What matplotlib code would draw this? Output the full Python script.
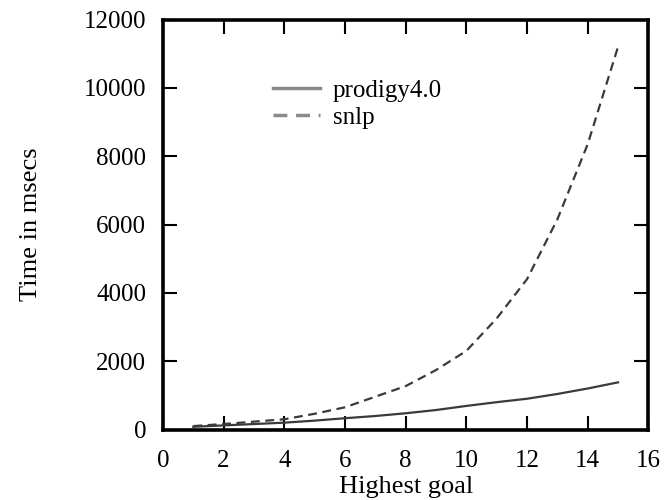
import matplotlib
matplotlib.use("Agg")
import matplotlib.pyplot as plt

# goal counts and timings
goals = [1, 2, 3, 4, 5, 6, 7, 8, 9, 10, 11, 12, 13, 14, 15]
prodigy_ms = [80, 120, 160, 200, 260, 330, 395, 475, 570, 690, 800, 900, 1040, 1200, 1380]
snlp_ms = [100, 160, 230, 300, 460, 650, 960, 1270, 1740, 2300, 3250, 4400, 6150, 8350, 11200]

x_ticks = [0, 2, 4, 6, 8, 10, 12, 14, 16]
y_ticks = [0, 2000, 4000, 6000, 8000, 10000, 12000]

plt.rcParams['font.family'] = ['Liberation Serif', 'DejaVu Serif']

fig = plt.figure(figsize=(6.65, 5.0), dpi=100)
ax = fig.add_axes([0.245, 0.141, 0.73, 0.82])

ax.plot(goals, prodigy_ms, color='#3a3a3a', lw=1.6, label='prodigy4.0')
ax.plot(goals, snlp_ms, color='#3a3a3a', lw=1.6, ls=(0, (4, 2.5)), label='snlp')

ax.set_xlim(0, 16)
ax.set_ylim(0, 12000)
ax.set_xticks(x_ticks)
ax.set_yticks(y_ticks)
ax.tick_params(direction='in', length=10, width=1.5, labelsize=18,
               top=True, right=True)
ax.tick_params(axis='x', pad=15)
ax.tick_params(axis='y', pad=12)
for s in ax.spines.values():
    s.set_linewidth(2.6)

ax.set_xlabel('Highest goal', fontsize=19, labelpad=3)
ax.set_ylabel('Time in msecs', fontsize=19, labelpad=30)

leg = ax.legend(loc='upper left', bbox_to_anchor=(0.2, 0.885), frameon=False,
                fontsize=18, handlelength=1.9, handletextpad=0.5,
                labelspacing=0.2, borderpad=0)
for h in leg.get_lines():
    h.set_color('#8a8a8a')
    h.set_linewidth(2.5)

fig.savefig('out.png', dpi=100)
